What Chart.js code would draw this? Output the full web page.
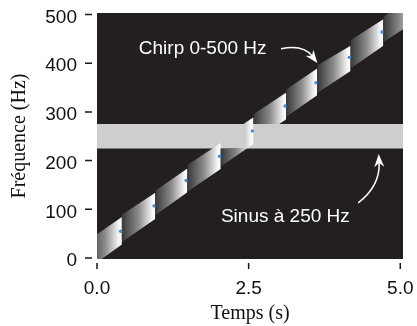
<!DOCTYPE html>
<html><head><meta charset="utf-8">
<script src="https://cdn.jsdelivr.net/npm/chart.js@4.4.1/dist/chart.umd.min.js"></script>
<style>html,body{margin:0;padding:0;background:#fff;}#wrap{width:417px;height:326px;}</style>
</head><body><div id="wrap"><canvas id="c" width="417" height="326"></canvas></div>
<script>
// ---- data ----
const xTicks = [0, 2.5, 5];
const xTickLabels = ['0.0', '2.5', '5.0'];
const yTicks = [0, 100, 200, 300, 400, 500];

// chirp frames (s) and band edges (Hz) at the start / end of each frame
const segStart = [0, 0.41, 0.96, 1.49, 2.04, 2.58, 3.12, 3.63, 4.18, 4.72];
const segEnd   = [0.41, 0.96, 1.49, 2.04, 2.58, 3.12, 3.63, 4.18, 4.72, 5.05];
const sweepStart = [-0.14, 0.41, 0.96, 1.49, 2.04, 2.58, 3.12, 3.63, 4.18, 4.72];
const sweepEnd   = [0.41, 0.96, 1.49, 2.04, 2.58, 3.12, 3.63, 4.18, 4.72, 5.27];
const lowStart  = [-9, 33, 88, 136, 188, 239, 290, 339, 389, 443];
const lowEnd    = [28, 80, 135, 183, 234, 285, 334, 384, 436, 470];
const highStart = [49, 89, 138, 191, 244, 295, 346, 395, 447, 495];
const highEnd   = [84, 134, 184, 236, 289, 340, 389, 436, 490, 525];

// small blue marks at the end of each frame
const dotT = [0.39, 0.94, 1.47, 2.02, 2.56, 3.10, 3.61, 4.16, 4.70];
const dotF = [55, 107, 159, 209, 261, 312, 360, 412, 464];

// 250 Hz sine band
const sineLow = 225, sineHigh = 275;
const timeSpan = [-0.1, 5.2];

// annotations (data units)
const chirpLabel = {text: 'Chirp 0-500 Hz', t: 0.689, f: 419};
const chirpArrow = {t0: 3.034, f0: 429.4, tc: 3.397, fc: 438.6, t1: 3.633, f1: 400.3};
const sineLabel = {text: 'Sinus à 250 Hz', t: 2.043, f: 74.9};
const sineArrow = {t0: 4.306, f0: 113.2, tc: 4.668, fc: 148, t1: 4.644, f1: 213.5};

const SANS = '"Liberation Sans", Arial, Helvetica, sans-serif';
const SERIF = '"Liberation Serif", "Times New Roman", serif';

function segGradient(k) {
  return (c) => {
    const ch = c.chart;
    const xs = ch.scales && ch.scales.x;
    if (!ch.chartArea || !xs) return '#888';
    const x0 = xs.getPixelForValue(sweepStart[k]);
    const x1 = xs.getPixelForValue(sweepEnd[k]);
    const g = ch.ctx.createLinearGradient(x0, 0, x1, 0);
    g.addColorStop(0, '#383838');
    g.addColorStop(0.5, '#8c8c8c');
    g.addColorStop(0.9, '#f4f4f4');
    g.addColorStop(1, '#ffffff');
    return g;
  };
}

const datasets = [];
// dots (top)
datasets.push({
  data: dotT.map((t, i) => ({x: t, y: dotF[i]})),
  showLine: false, pointRadius: 1.7, pointBackgroundColor: '#3b8fdc',
  pointBorderWidth: 0, borderColor: 'transparent', order: 0
});
const dotIndex = 0;
// chirp frames
for (let k = 0; k < segStart.length; k++) {
  datasets.push({
    data: [{x: segStart[k], y: highStart[k]}, {x: segEnd[k], y: highEnd[k]}],
    fill: '+1', backgroundColor: segGradient(k), borderColor: 'transparent',
    borderWidth: 0, pointRadius: 0, order: 1
  });
  datasets.push({
    data: [{x: segStart[k], y: lowStart[k]}, {x: segEnd[k], y: lowEnd[k]}],
    fill: false, borderColor: 'transparent', borderWidth: 0, pointRadius: 0, order: 1
  });
}
// sine band
datasets.push({
  data: timeSpan.map(t => ({x: t, y: sineHigh})),
  fill: '+1', backgroundColor: '#cecece', borderColor: 'transparent',
  borderWidth: 0, pointRadius: 0, order: 2
});
datasets.push({
  data: timeSpan.map(t => ({x: t, y: sineLow})),
  fill: false, borderColor: 'transparent', borderWidth: 0, pointRadius: 0, order: 2
});

function arrow(ctx, p0, pc, p1) {
  ctx.beginPath();
  const dx = p1.x - pc.x, dy = p1.y - pc.y;
  const len = Math.hypot(dx, dy);
  const ux = dx / len, uy = dy / len;
  const nx = -uy, ny = ux;
  const L = 13, W = 5, N = 4;
  const bx = p1.x - ux * L, by = p1.y - uy * L;
  const notchX = p1.x - ux * (L - N), notchY = p1.y - uy * (L - N);
  ctx.moveTo(p0.x, p0.y);
  ctx.quadraticCurveTo(pc.x, pc.y, notchX, notchY);
  ctx.stroke();
  ctx.beginPath();
  ctx.moveTo(p1.x, p1.y);
  ctx.lineTo(bx + nx * W, by + ny * W);
  ctx.lineTo(notchX, notchY);
  ctx.lineTo(bx - nx * W, by - ny * W);
  ctx.closePath();
  ctx.fill();
}

const plotPlugin = {
  id: 'plotPlugin',
  beforeDraw(chart) {
    const {ctx, chartArea: a} = chart;
    ctx.save();
    ctx.fillStyle = '#231f20';
    ctx.fillRect(a.left, a.top, a.right - a.left, a.bottom - a.top);
    ctx.restore();
  },
  beforeDatasetsDraw(chart) { chart.ctx.globalCompositeOperation = 'lighten'; },
  beforeDatasetDraw(chart, args) {
    if (args.index === dotIndex) chart.ctx.globalCompositeOperation = 'source-over';
  },
  afterDatasetsDraw(chart) {
    const ctx = chart.ctx;
    ctx.globalCompositeOperation = 'source-over';
    const xs = chart.scales.x, ys = chart.scales.y;
    const P = (t, f) => ({x: xs.getPixelForValue(t), y: ys.getPixelForValue(f)});
    ctx.save();
    ctx.fillStyle = '#ffffff';
    ctx.strokeStyle = '#ffffff';
    ctx.lineWidth = 1.5;
    ctx.font = '19px ' + SANS;
    ctx.textAlign = 'left';
    ctx.textBaseline = 'alphabetic';
    let p = P(chirpLabel.t, chirpLabel.f);
    ctx.fillText(chirpLabel.text, p.x, p.y);
    p = P(sineLabel.t, sineLabel.f);
    ctx.fillText(sineLabel.text, p.x, p.y);
    arrow(ctx, P(chirpArrow.t0, chirpArrow.f0), P(chirpArrow.tc, chirpArrow.fc), P(chirpArrow.t1, chirpArrow.f1));
    arrow(ctx, P(sineArrow.t0, sineArrow.f0), P(sineArrow.tc, sineArrow.fc), P(sineArrow.t1, sineArrow.f1));
    ctx.restore();
  },
  afterDraw(chart) {
    const {ctx, chartArea: a} = chart;
    const xs = chart.scales.x, ys = chart.scales.y;
    ctx.save();
    ctx.strokeStyle = '#1a1a1a';
    ctx.lineWidth = 1.5;
    ctx.beginPath();
    yTicks.forEach(v => {
      const y = ys.getPixelForValue(v);
      ctx.moveTo(a.left - 12, y); ctx.lineTo(a.left - 5, y);
    });
    xTicks.forEach(v => {
      const x = xs.getPixelForValue(v);
      ctx.moveTo(x, a.bottom + 4); ctx.lineTo(x, a.bottom + 10);
    });
    ctx.stroke();
    ctx.restore();
  }
};

function zeroPad(s) { s.paddingLeft = 0; s.paddingRight = 0; s.paddingTop = 0; s.paddingBottom = 0; }

new Chart(document.getElementById('c'), {
  type: 'line',
  data: {datasets},
  options: {
    responsive: false, animation: false, devicePixelRatio: 1,
    layout: {padding: {left: 0, right: 14, top: 13, bottom: 0}},
    plugins: {legend: {display: false}, tooltip: {enabled: false}},
    scales: {
      x: {
        type: 'linear', min: 0, max: 5.045,
        afterBuildTicks(s) { s.ticks = xTicks.map(v => ({value: v})); },
        afterFit(s) { s.height = 67; zeroPad(s); },
        grid: {display: false, drawTicks: false}, border: {display: false},
        ticks: {
          callback: (v, i) => xTickLabels[i], font: {family: SANS, size: 19},
          color: '#111', padding: 18, maxRotation: 0, autoSkip: false
        },
        title: {display: true, text: 'Temps (s)', font: {family: SERIF, size: 20}, color: '#111', padding: {top: 0, bottom: 0}}
      },
      y: {
        type: 'linear', min: -2, max: 503,
        afterBuildTicks(s) { s.ticks = yTicks.map(v => ({value: v})); },
        afterFit(s) { s.width = 97; zeroPad(s); },
        grid: {display: false, drawTicks: false}, border: {display: false},
        ticks: {
          callback: (v) => String(v), font: {family: SANS, size: 19},
          color: '#111', padding: 20, labelOffset: 3, autoSkip: false
        },
        title: {display: true, text: 'Fréquence (Hz)', font: {family: SERIF, size: 20}, color: '#111', padding: {top: 8, bottom: 0}}
      }
    }
  },
  plugins: [plotPlugin]
});
</script>
</body></html>
